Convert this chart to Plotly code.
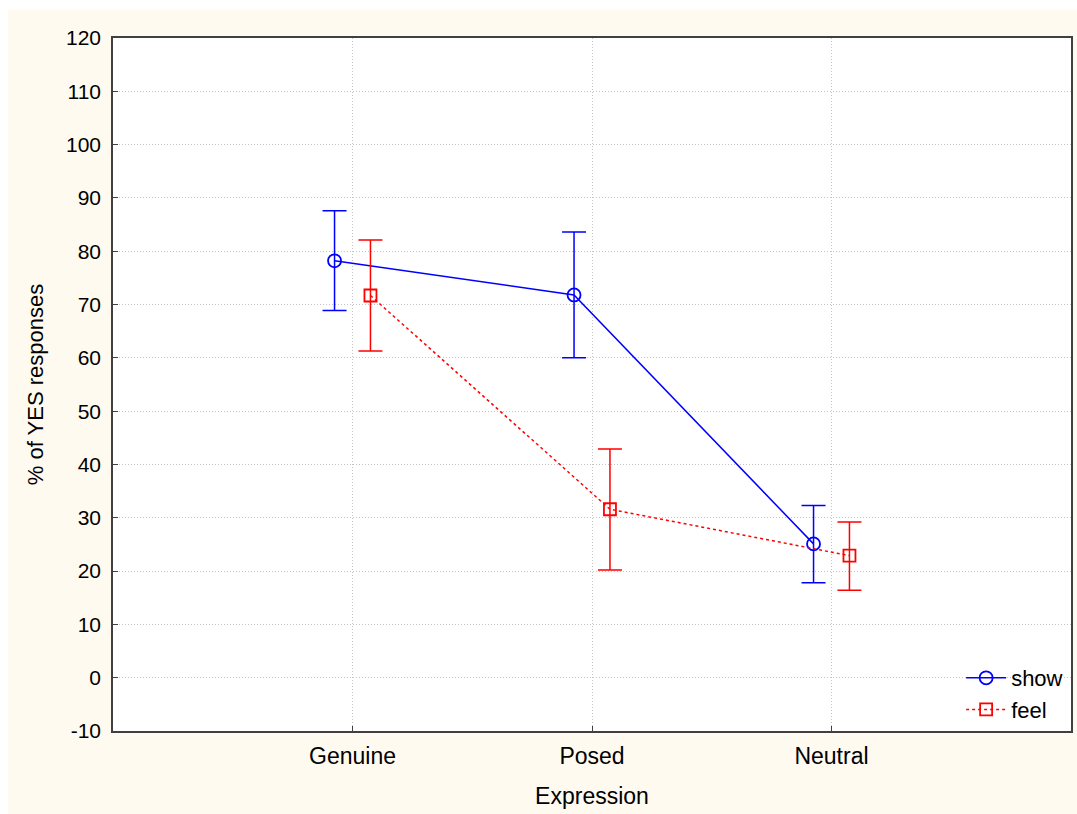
import plotly.graph_objects as go

categories = ["Genuine", "Posed", "Neutral"]
show_mean = [78.2, 71.8, 25.1]
show_upper = [87.6, 83.6, 32.3]
show_lower = [68.9, 60.0, 17.8]
feel_mean = [71.7, 31.6, 22.9]
feel_upper = [82.1, 42.9, 29.2]
feel_lower = [61.3, 20.2, 16.4]
y_ticks = list(range(-10, 121, 10))
y_ticktext = [str(v) for v in y_ticks]

OFFSET = 0.075
idx = list(range(len(categories)))

def errs(mean, up, lo):
    return [u - m for u, m in zip(up, mean)], [m - l for m, l in zip(mean, lo)]

sp, sm = errs(show_mean, show_upper, show_lower)
fp, fm = errs(feel_mean, feel_upper, feel_lower)

fig = go.Figure()
fig.add_trace(go.Scatter(
    x=[i - OFFSET for i in idx], y=show_mean, name="show",
    mode="lines+markers",
    line=dict(color="#0000FF", width=1.5),
    marker=dict(symbol="circle-open", size=13, color="#0000FF", line=dict(width=1.8)),
    error_y=dict(type="data", symmetric=False, array=sp, arrayminus=sm,
                 color="#0000FF", thickness=1.5, width=12),
))
fig.add_trace(go.Scatter(
    x=[i + OFFSET for i in idx], y=feel_mean, name="feel",
    mode="lines+markers",
    line=dict(color="#FF0000", width=1.5, dash="dot"),
    marker=dict(symbol="square-open", size=12, color="#FF0000", line=dict(width=1.8)),
    error_y=dict(type="data", symmetric=False, array=fp, arrayminus=fm,
                 color="#FF0000", thickness=1.5, width=12),
))

L, R, T, B = 113, 4, 38, 83
W, H = 1077, 814
pw, ph = W - L - R, H - T - B
def px2x(p): return (p - L) / pw
def py2y(p): return (H - B - p) / ph

fig.add_shape(type="rect", xref="paper", yref="paper", layer="below",
              x0=px2x(8), x1=px2x(1080), y0=py2y(816), y1=py2y(10),
              fillcolor="#FEFAF0", line=dict(width=0))
fig.add_shape(type="rect", xref="paper", yref="paper", layer="below",
              x0=0, x1=1, y0=0, y1=1,
              fillcolor="white", line=dict(width=0))

font = "Liberation Sans, Arial, sans-serif"
grid = dict(showgrid=True, gridcolor="#C4C4C4", griddash="1px,2px", gridwidth=1)
fig.update_layout(
    width=W, height=H,
    margin=dict(l=L, r=R, t=T, b=B),
    paper_bgcolor="white",
    plot_bgcolor="rgba(0,0,0,0)",
    font=dict(family=font, size=22, color="black"),
    showlegend=True,
    legend=dict(x=0.997, y=0.0, xanchor="right", yanchor="bottom",
                bgcolor="rgba(0,0,0,0)", font=dict(size=22),
                itemwidth=40, tracegroupgap=0),
    xaxis=dict(
        range=[-1, 3], tickvals=idx, ticktext=categories,
        **grid,
        showline=True, linecolor="#404040", linewidth=1.5, mirror=True,
        ticks="inside", ticklen=5, tickcolor="#404040",
        tickfont=dict(size=23), ticklabelstandoff=4,
        zeroline=False,
        title=dict(text="Expression", standoff=20, font=dict(size=23)),
    ),
    yaxis=dict(
        range=[-10, 120], tickvals=y_ticks, ticktext=y_ticktext,
        **grid,
        showline=True, linecolor="#404040", linewidth=1.5, mirror=True,
        ticks="inside", ticklen=5, tickcolor="#404040",
        tickfont=dict(size=21), ticklabelstandoff=6,
        zeroline=False,
        title=dict(text="% of YES responses", standoff=16, font=dict(size=22)),
    ),
)

fig.write_html("out.html")
